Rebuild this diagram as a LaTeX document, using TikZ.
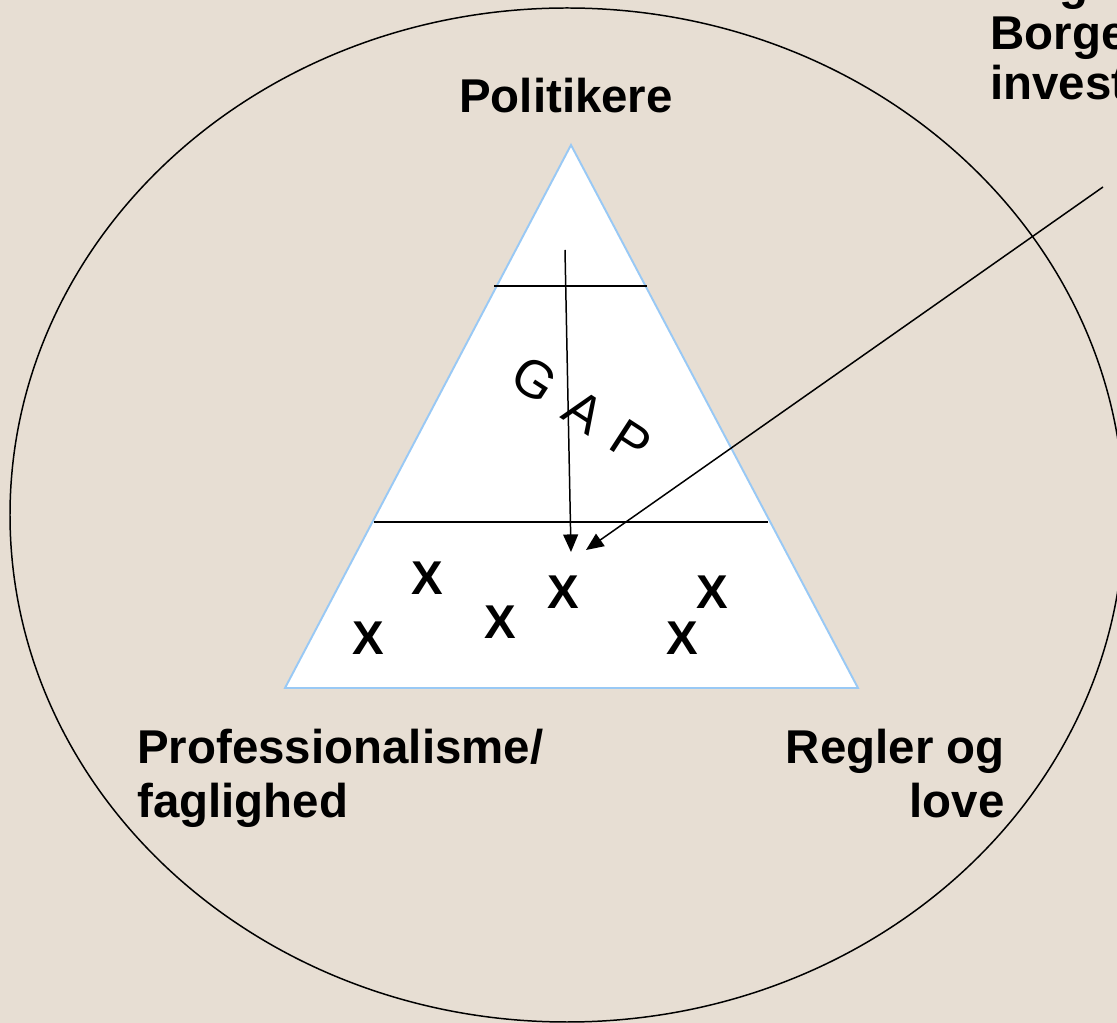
\documentclass[tikz,border=0pt]{standalone}
\usepackage{fontspec}
\setmainfont{Liberation Sans}
\usetikzlibrary{arrows.meta}
\definecolor{bgbeige}{HTML}{E7DED3}
\definecolor{edgeblue}{HTML}{99C9F5}
\def\crosslist{{(427,578)/x1}, {(368,638)/x2}, {(500,622)/x3}, {(563,592)/x4}, {(712,592)/x5}, {(682,638)/x6}}
\tikzstyle{label}=[font=\fontsize{27}{31}\selectfont\bfseries,inner sep=0pt]
\tikzstyle{cross}=[font=\fontsize{27}{31}\selectfont\bfseries,inner sep=0pt]
\tikzstyle{level}=[draw,line width=0.85pt,-]
\tikzstyle{pointer}=[draw,line width=0.85pt,-{Triangle[length=10pt,width=8.5pt]}]

\begin{document}
\begin{tikzpicture}[x=0.02cm,y=-0.02cm]
  \clip (0,0) rectangle (1117,1023);
  \fill[bgbeige] (0,0) rectangle (1117,1023);

  % The surrounding ellipse
  \draw[line width=0.85pt] (567,515) ellipse [x radius=557, y radius=507];

  % The pyramid
  \coordinate (top) at (571,145);
  \coordinate (bl) at (285,688);
  \coordinate (br) at (858,688);
  \filldraw[fill=white,draw=edgeblue,line width=1.1pt] (top) -- (bl) -- (br) -- cycle;
  \path[level] (494,286) -- (647,286);
  \path[level] (374,522) -- (768,522);

  % Labels
  \node[label] (pol) at (566,96) {Politikere};
  \node[label,anchor=base west,align=left] (prof) at (137,818) {Professionalisme/\\faglighed};
  \node[label,anchor=base east,align=right] (regler) at (1005,818) {Regler og\\love};
  \node[label,anchor=base west] (og) at (1030,0) {og};
  \node[label,anchor=base west] (borger) at (990,50) {Borger};
  \node[label,anchor=base west] (invest) at (990,100) {investering};

  \node[rotate=-33,font=\fontsize{30}{31}\selectfont,inner sep=0pt] (gap) at (582,410) {G\hspace{0.4em}A\hspace{0.4em}P};

  % The crosses at the bottom
  \foreach \pos/\name in \crosslist {
    \node[cross] (\name) at \pos {X};
  }

  % Arrows down to the middle cross
  \coordinate (gapstart) at (565,250);
  \coordinate (outside) at (1103,187);
  \path[pointer] (gapstart) -- (571,552);
  \path[pointer] (outside) -- (586,550);
\end{tikzpicture}
\end{document}
